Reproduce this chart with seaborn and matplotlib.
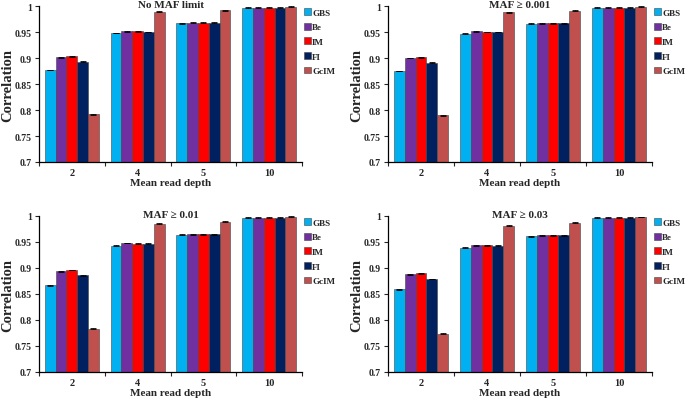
import matplotlib
matplotlib.use("Agg")
import matplotlib.pyplot as plt
import seaborn as sns
import pandas as pd
import numpy as np
from matplotlib.patches import Patch
from matplotlib.container import BarContainer

sns.set_style("ticks")
plt.rcParams['font.family'] = ['Liberation Serif', 'DejaVu Serif']
plt.rcParams['font.weight'] = 'bold'

depths = ["2", "4", "5", "10"]
methods = ["GBS", "Be", "IM", "FI", "GcIM"]
colors = ["#00B0F0", "#7030A0", "#FF0000", "#002060", "#C0504D"]
titles = ["No MAF limit", "MAF ≥ 0.001", "MAF ≥ 0.01", "MAF ≥ 0.03"]

# values[method] per depth (2, 4, 5, 10)
no_maf = {
    "GBS":  [0.877, 0.948, 0.967, 0.997],
    "Be":   [0.901, 0.951, 0.968, 0.997],
    "IM":   [0.903, 0.951, 0.968, 0.997],
    "FI":   [0.893, 0.950, 0.968, 0.997],
    "GcIM": [0.792, 0.989, 0.992, 0.999],
}
maf_0001 = {
    "GBS":  [0.875, 0.947, 0.966, 0.997],
    "Be":   [0.900, 0.951, 0.967, 0.997],
    "IM":   [0.901, 0.950, 0.967, 0.997],
    "FI":   [0.891, 0.950, 0.967, 0.997],
    "GcIM": [0.790, 0.988, 0.991, 0.999],
}
maf_001 = {
    "GBS":  [0.867, 0.943, 0.964, 0.997],
    "Be":   [0.894, 0.948, 0.965, 0.997],
    "IM":   [0.896, 0.947, 0.965, 0.997],
    "FI":   [0.886, 0.947, 0.965, 0.997],
    "GcIM": [0.783, 0.985, 0.989, 0.999],
}
maf_003 = {
    "GBS":  [0.859, 0.939, 0.961, 0.997],
    "Be":   [0.888, 0.944, 0.963, 0.997],
    "IM":   [0.890, 0.944, 0.963, 0.997],
    "FI":   [0.879, 0.943, 0.963, 0.997],
    "GcIM": [0.774, 0.981, 0.987, 0.998],
}
err_size = 0.0008
panels = [no_maf, maf_0001, maf_001, maf_003]

W, H = 685, 402
fig = plt.figure(figsize=(W / 100, H / 100), dpi=100)
rects = [
    (39, 7, 302, 163),
    (388, 7, 652, 163),
    (39, 217, 302, 373),
    (388, 217, 652, 373),
]

for data, title, (x0, y0, x1, y1) in zip(panels, titles, rects):
    ax = fig.add_axes([x0 / W, 1 - y1 / H, (x1 - x0) / W, (y1 - y0) / H])
    rows = []
    for m in methods:
        for d, v in zip(depths, data[m]):
            rows.append({"depth": d, "method": m, "value": v})
    df = pd.DataFrame(rows)
    sns.barplot(data=df, x="depth", y="value", hue="method", order=depths,
                hue_order=methods, palette=colors, width=0.82, ax=ax,
                saturation=1, edgecolor="#444444", linewidth=0.4,
                errorbar=None, legend=False)
    # small error caps
    bar_conts = [c for c in ax.containers if isinstance(c, BarContainer)]
    for cont in bar_conts:
        patches = [p for p in cont if p is not None]
        xs = [p.get_x() + p.get_width() / 2 for p in patches]
        ys = [p.get_height() for p in patches]
        ax.errorbar(xs, ys, yerr=err_size, fmt="none", ecolor="black",
                    elinewidth=0.6, capsize=2.2, capthick=0.6)
    ax.set_ylim(0.7, 1.0)
    ax.set_xlim(-0.5, 3.5)
    ax.set_yticks(np.arange(0.7, 1.001, 0.05))
    ax.set_yticklabels(["0.7", "0.75", "0.8", "0.85", "0.9", "0.95", "1"],
                       fontsize=7, fontweight="bold")
    ax.set_xticks(range(4))
    ax.set_xticklabels(depths, fontsize=7.5, fontweight="bold")
    ax.tick_params(axis="x", length=0, pad=4)
    ax.set_xticks([-0.5, 0.5, 1.5, 2.5, 3.5], minor=True)
    ax.tick_params(axis="x", which="minor", length=3, width=0.8, direction="out")
    ax.tick_params(axis="y", length=3, width=0.8, direction="out", pad=2)
    sns.despine(ax=ax)
    for s in ["left", "bottom"]:
        ax.spines[s].set_linewidth(0.9)
        ax.spines[s].set_color("black")
    ax.set_xlabel("Mean read depth", fontsize=8, fontweight="bold", labelpad=1)
    ax.set_ylabel("Correlation", fontsize=10.5, fontweight="bold")
    ax.yaxis.set_label_coords(-0.094, 0.5)
    ax.text(0.5, 1.012, title, transform=ax.transAxes, ha="center",
            va="center", fontsize=8, fontweight="bold")
    handles = [Patch(facecolor=c, edgecolor="#444444", linewidth=0.4, label=m)
               for m, c in zip(methods, colors)]
    ax.legend(handles=handles, loc="upper left", bbox_to_anchor=(0.988, 1.02),
              frameon=False, prop={"size": 6.5, "weight": "bold"},
              handlelength=0.75, handleheight=0.75, handletextpad=0.12,
              labelspacing=0.68, borderaxespad=0.2)

fig.savefig("out.png", dpi=100)
